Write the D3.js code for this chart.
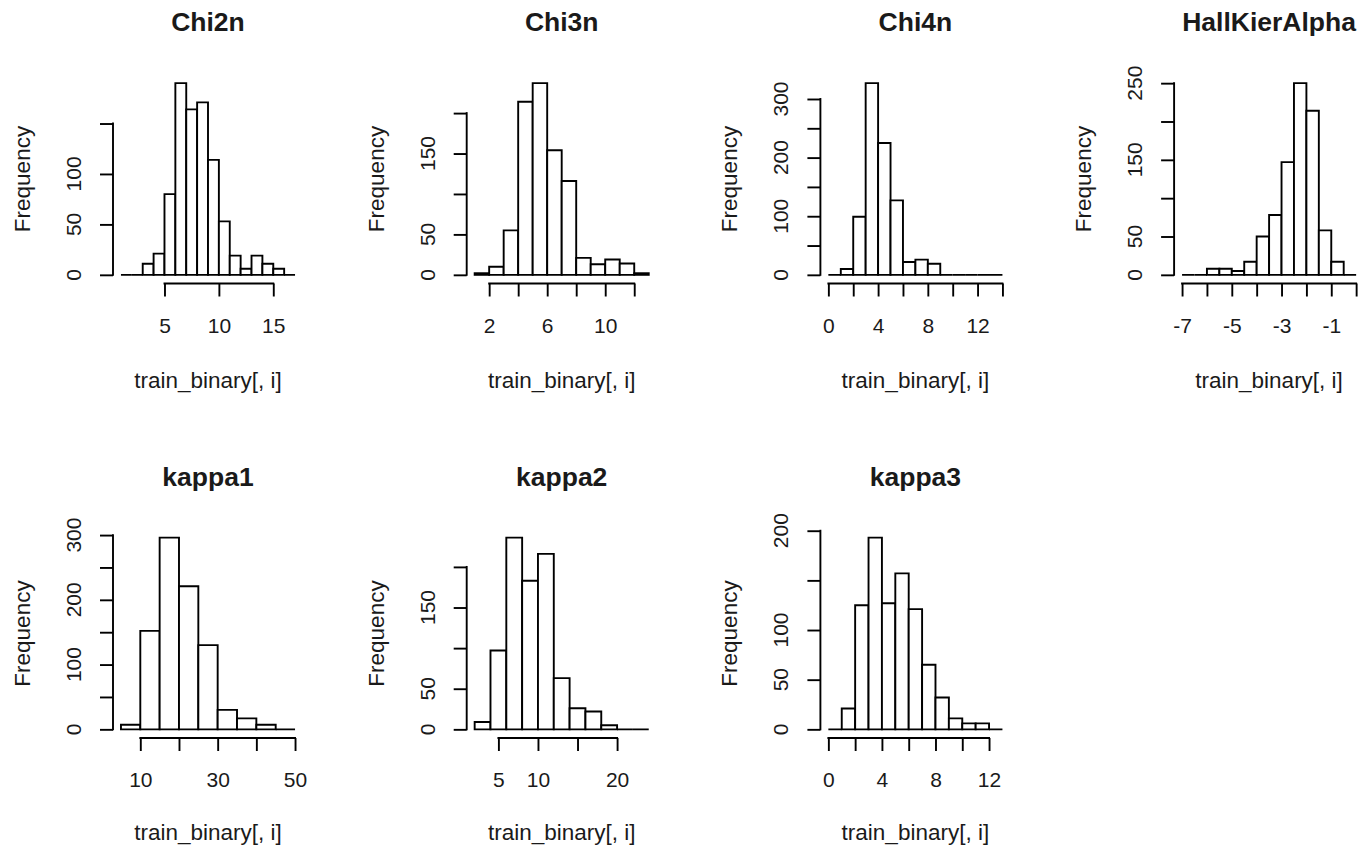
<!DOCTYPE html>
<html>
<head>
<meta charset="utf-8">
<script src="https://cdn.jsdelivr.net/npm/d3@7"></script>
<style>
  html, body { margin: 0; padding: 0; background: #fff; }
  svg { display: block; }
  text { font-family: "Liberation Sans", Arial, sans-serif; fill: #1a1a1a; }
</style>
</head>
<body>
<svg id="chart" width="1368" height="847"></svg>
<script>
// ---------- data ----------
const titles = ["Chi2n", "Chi3n", "Chi4n", "HallKierAlpha", "kappa1", "kappa2", "kappa3"];

// histogram bin starts / widths
const binStart = [1, 1, 0, -7, 5, 2, 0];
const binWidth = [1, 1, 1, 0.5, 5, 2, 1];

// counts per bin
const chi2nCounts  = [0, 0, 11, 21, 80, 190, 164, 171, 114, 53, 19, 6, 19, 11, 6, 0];
const chi3nCounts  = [2, 10, 55, 214, 237, 154, 116, 21, 13, 19, 14, 2];
const chi4nCounts  = [0, 10, 99, 327, 225, 127, 22, 26, 19, 0, 0, 0, 0, 0];
const hallCounts   = [0, 0, 8, 8, 5, 17, 50, 78, 147, 250, 214, 58, 17, 0];
const kappa1Counts = [7, 152, 296, 221, 130, 30, 17, 7, 0];
const kappa2Counts = [9, 97, 236, 183, 216, 63, 26, 22, 5, 0, 0];
const kappa3Counts = [0, 21, 125, 193, 127, 157, 121, 65, 32, 11, 6, 6, 0];
const allCounts = [chi2nCounts, chi3nCounts, chi4nCounts, hallCounts, kappa1Counts, kappa2Counts, kappa3Counts];

// axis ticks and tick labels ("" = tick without label)
const xTicks = [
  [5, 10, 15],
  [2, 4, 6, 8, 10, 12],
  [0, 2, 4, 6, 8, 10, 12, 14],
  [-7, -6, -5, -4, -3, -2, -1, 0],
  [10, 20, 30, 40, 50],
  [5, 10, 15, 20],
  [0, 2, 4, 6, 8, 10, 12]
];
const xTickLabels = [
  ["5", "10", "15"],
  ["2", "", "6", "", "10", ""],
  ["0", "", "4", "", "8", "", "12", ""],
  ["-7", "", "-5", "", "-3", "", "-1", ""],
  ["10", "", "30", "", "50"],
  ["5", "10", "", "20"],
  ["0", "", "4", "", "8", "", "12"]
];
const yTicks = [
  [0, 50, 100, 150],
  [0, 50, 100, 150, 200],
  [0, 50, 100, 150, 200, 250, 300],
  [0, 50, 100, 150, 200, 250],
  [0, 50, 100, 150, 200, 250, 300],
  [0, 50, 100, 150, 200],
  [0, 50, 100, 150, 200]
];
const yTickLabels = [
  ["0", "50", "100", ""],
  ["0", "50", "", "150", ""],
  ["0", "", "100", "", "200", "", "300"],
  ["0", "50", "", "150", "", "250"],
  ["0", "", "100", "", "200", "", "300"],
  ["0", "50", "", "150", ""],
  ["0", "50", "100", "", "200"]
];
const xLabel = "train_binary[, i]";
const yLabel = "Frequency";

// ---------- layout ----------
const svg = d3.select("#chart");
svg.append("rect").attr("width", 1368).attr("height", 847).attr("fill", "#fff");

const plotW = 188, plotH = 207;
const colStep = 353.7, rowStep = 454.5;
const left0 = 114, top0 = 75.5;
const LW = 1.9;
const FS = 21, LFS = 22.5, TFS = 26.5;

titles.forEach((title, i) => {
  const col = i % 4, row = Math.floor(i / 4);
  const L = left0 + col * colStep;
  const T = top0 + row * rowStep;
  const counts = allCounts[i];
  const bins = counts.map((c, j) => ({
    x0: binStart[i] + j * binWidth[i],
    x1: binStart[i] + (j + 1) * binWidth[i],
    c
  }));
  const xmin = bins[0].x0, xmax = bins[bins.length - 1].x1;
  const xr = xmax - xmin;
  const ymax = d3.max(counts);

  const x = d3.scaleLinear().domain([xmin - 0.04 * xr, xmax + 0.04 * xr]).range([0, plotW]);
  const y = d3.scaleLinear().domain([-0.04 * ymax, 1.04 * ymax]).range([plotH, 0]);

  const g = svg.append("g").attr("transform", `translate(${L},${T})`);

  // bars (drawn as paths so zero-count bins still show on the baseline)
  g.selectAll("path.bar").data(bins).join("path")
    .attr("class", "bar")
    .attr("d", d => `M${x(d.x0)},${y(0)}V${y(d.c)}H${x(d.x1)}V${y(0)}Z`)
    .attr("fill", "#fff")
    .attr("stroke", "#000")
    .attr("stroke-width", LW)
    .attr("stroke-linejoin", "miter");

  // x axis
  const xt = xTicks[i];
  const xa = g.append("g").attr("transform", `translate(0,${plotH + 1})`)
    .call(d3.axisBottom(x).tickValues(xt).tickSize(13).tickFormat((d, k) => xTickLabels[i][k]));
  xa.select(".domain").remove();
  xa.append("line").attr("x1", x(xt[0])).attr("x2", x(xt[xt.length - 1]))
    .attr("stroke", "#000").attr("stroke-width", LW).attr("stroke-linecap", "square");
  xa.selectAll(".tick line").attr("stroke", "#000").attr("stroke-width", LW);
  xa.selectAll(".tick text").attr("y", 49).attr("dy", 0)
    .attr("font-size", FS).attr("fill", "#1a1a1a")
    .style("font-family", '"Liberation Sans", Arial, sans-serif');

  // y axis
  const yt = yTicks[i];
  const ya = g.append("g").attr("transform", `translate(-1,0)`)
    .call(d3.axisLeft(y).tickValues(yt).tickSize(13).tickFormat(""));
  ya.select(".domain").remove();
  ya.append("line").attr("y1", y(yt[0])).attr("y2", y(yt[yt.length - 1]))
    .attr("stroke", "#000").attr("stroke-width", LW).attr("stroke-linecap", "square");
  ya.selectAll(".tick line").attr("stroke", "#000").attr("stroke-width", LW);
  ya.selectAll("text.ylab").data(yt).join("text")
    .attr("class", "ylab")
    .attr("transform", d => `translate(-32,${y(d)}) rotate(-90)`)
    .attr("text-anchor", "middle")
    .attr("font-size", FS)
    .text((d, k) => yTickLabels[i][k]);

  // title
  g.append("text").attr("x", plotW / 2).attr("y", -44.5)
    .attr("text-anchor", "middle").attr("font-size", TFS).attr("font-weight", "bold")
    .text(title);

  // axis labels
  g.append("text").attr("x", plotW / 2).attr("y", plotH + 105 - row * 2)
    .attr("text-anchor", "middle").attr("font-size", LFS).text(xLabel);
  g.append("text")
    .attr("transform", `translate(-84,${plotH / 2}) rotate(-90)`)
    .attr("text-anchor", "middle").attr("font-size", LFS).text(yLabel);
});
</script>
</body>
</html>
